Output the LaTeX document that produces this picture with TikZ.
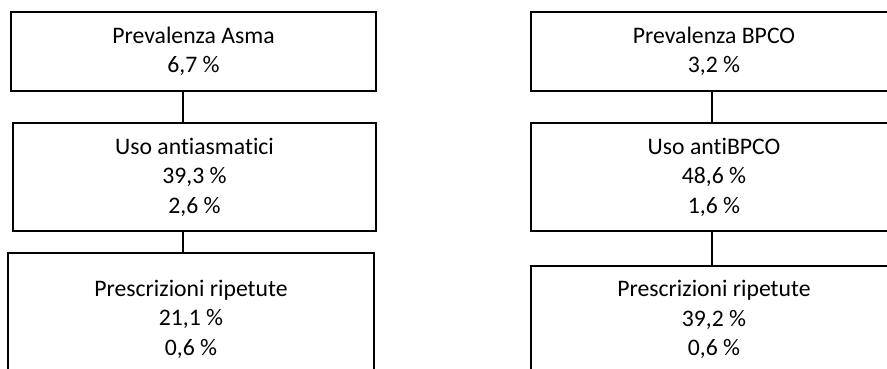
\documentclass[tikz,border=0pt]{standalone}
\usepackage{fontspec}
\setmainfont{Carlito}[Ligatures=CommonOff]
\begin{document}
\begin{tikzpicture}[x=1pt,y=-1pt,
  box/.style={draw=black, line width=1.8pt, fill=white, inner sep=0pt, align=center,
    font=\fontsize{23.7}{29.5}\selectfont},
  link/.style={draw=black, line width=1.3pt}]
\useasboundingbox (0,0) rectangle (887,368);
% left column
\node[box, minimum width=365pt, minimum height=79.3pt] (L1) at (193.5,51.4)
  {Prevalenza Asma\\6,7 \%};
\node[box, minimum width=363pt, minimum height=107.7pt] (L2) at (194.5,177)
  {Uso antiasmatici\\39,3 \%\\2,6 \%};
\node[box, minimum width=366pt, minimum height=132pt] (L3) at (191,319)
  {Prescrizioni ripetute\\21,1 \%\\0,6 \%};
% right column
\node[box, minimum width=366pt, minimum height=79.3pt] (R1) at (714,51.4)
  {Prevalenza BPCO\\3,2 \%};
\node[box, minimum width=366pt, minimum height=107.7pt] (R2) at (714,177)
  {Uso antiBPCO\\48,6 \%\\1,6 \%};
\node[box, minimum width=366pt, minimum height=107.6pt] (R3) at (714,319.5)
  {Prescrizioni ripetute\\39,2 \%\\0,6 \%};
% connectors
\draw[link] ([xshift=-10.5pt]L1.south) -- ([xshift=-10.5pt]L1.south |- L2.north);
\draw[link] ([xshift=-11.5pt]L2.south) -- ([xshift=-11.5pt]L2.south |- L3.north);
\draw[link] ([xshift=-2pt]R1.south) -- ([xshift=-2pt]R1.south |- R2.north);
\draw[link] ([xshift=-2pt]R2.south) -- ([xshift=-2pt]R2.south |- R3.north);
\end{tikzpicture}
\end{document}
